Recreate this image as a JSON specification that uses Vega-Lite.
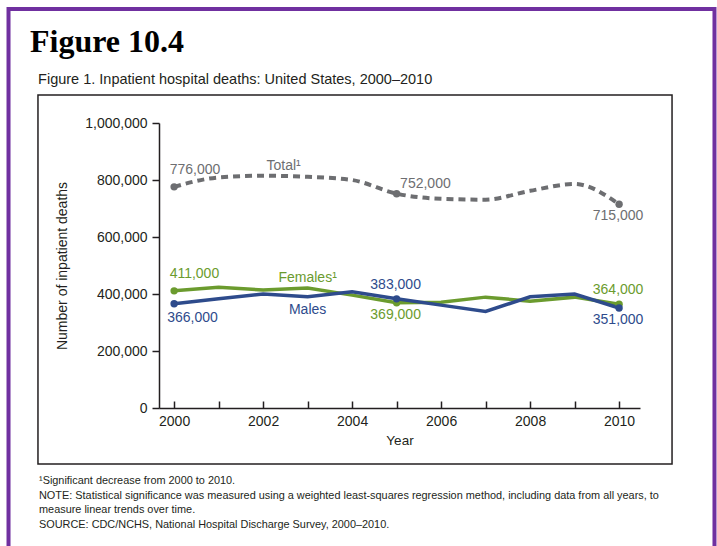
{
  "$schema": "https://vega.github.io/schema/vega-lite/v6.json",
  "width": 481,
  "height": 285,
  "autosize": {"type": "none"},
  "padding": {"left": 159, "top": 123, "right": 77, "bottom": 138},
  "background": "white",
  "config": {"view": {"stroke": null}, "axis": {"grid": false, "labelFont": "Liberation Sans", "titleFont": "Liberation Sans"}},
  "title": {
    "text": "Figure 10.4",
    "subtitle": "\u200b\u00a0\u00a0Figure 1. Inpatient hospital deaths: United States, 2000–2010",
    "anchor": "start",
    "frame": "group",
    "dx": -129,
    "offset": -80,
    "font": "Liberation Serif",
    "fontSize": 32,
    "fontWeight": "bold",
    "color": "#000000",
    "subtitleFont": "Liberation Sans",
    "subtitleFontSize": 14.5,
    "subtitleColor": "#231f20",
    "subtitlePadding": 14
  },
  "datasets": {
    "deaths": [
      {"series": "Total¹", "year": 2000, "value": 776000},
      {"series": "Total¹", "year": 2001, "value": 809000},
      {"series": "Total¹", "year": 2002, "value": 815000},
      {"series": "Total¹", "year": 2003, "value": 811000},
      {"series": "Total¹", "year": 2004, "value": 800000},
      {"series": "Total¹", "year": 2005, "value": 752000},
      {"series": "Total¹", "year": 2006, "value": 734000},
      {"series": "Total¹", "year": 2007, "value": 731000},
      {"series": "Total¹", "year": 2008, "value": 762000},
      {"series": "Total¹", "year": 2009, "value": 786000},
      {"series": "Total¹", "year": 2010, "value": 715000},
      {"series": "Females¹", "year": 2000, "value": 411000},
      {"series": "Females¹", "year": 2001, "value": 424000},
      {"series": "Females¹", "year": 2002, "value": 414000},
      {"series": "Females¹", "year": 2003, "value": 421000},
      {"series": "Females¹", "year": 2004, "value": 396000},
      {"series": "Females¹", "year": 2005, "value": 369000},
      {"series": "Females¹", "year": 2006, "value": 371000},
      {"series": "Females¹", "year": 2007, "value": 389000},
      {"series": "Females¹", "year": 2008, "value": 375000},
      {"series": "Females¹", "year": 2009, "value": 389000},
      {"series": "Females¹", "year": 2010, "value": 364000},
      {"series": "Males", "year": 2000, "value": 366000},
      {"series": "Males", "year": 2001, "value": 383000},
      {"series": "Males", "year": 2002, "value": 400000},
      {"series": "Males", "year": 2003, "value": 390000},
      {"series": "Males", "year": 2004, "value": 408000},
      {"series": "Males", "year": 2005, "value": 383000},
      {"series": "Males", "year": 2006, "value": 361000},
      {"series": "Males", "year": 2007, "value": 339000},
      {"series": "Males", "year": 2008, "value": 390000},
      {"series": "Males", "year": 2009, "value": 400000},
      {"series": "Males", "year": 2010, "value": 351000}
    ],
    "frame": [{"name": "frame"}]
  },
  "resolve": {"axis": {"x": "independent", "y": "independent"}},
  "layer": [
    {
      "data": {"name": "frame"},
      "mark": {"type": "rect", "filled": false, "stroke": "#7030a0", "strokeWidth": 4, "clip": false},
      "encoding": {
        "x": {"datum": 1996.278, "type": "quantitative", "axis": null},
        "x2": {"datum": 2012.144},
        "y": {"datum": 1400000, "type": "quantitative", "axis": null},
        "y2": {"datum": -533333}
      }
    },
    {
      "data": {"name": "frame"},
      "mark": {"type": "rect", "filled": false, "stroke": "#231f20", "strokeWidth": 1.5, "clip": false},
      "encoding": {
        "x": {"datum": 1996.94, "type": "quantitative", "axis": null},
        "x2": {"datum": 2011.19},
        "y": {"datum": 1098246, "type": "quantitative", "axis": null},
        "y2": {"datum": -196491}
      }
    },
    {
      "data": {"name": "deaths"},
      "resolve": {"axis": {"x": "independent", "y": "independent"}},
      "encoding": {
        "x": {"field": "year", "type": "quantitative", "scale": {"domain": [1999.66, 2010.47], "nice": false, "zero": false}, "axis": null},
        "y": {"field": "value", "type": "quantitative", "scale": {"domain": [0, 1000000], "nice": false, "zero": false}, "axis": null},
        "color": {"field": "series", "type": "nominal", "legend": null, "scale": {"domain": ["Total¹", "Females¹", "Males"], "range": ["#6d6e71", "#6b9b2e", "#2e4b8c"]}}
      },
      "layer": [
        {
          "transform": [{"filter": "datum.series == 'Total¹'"}],
          "mark": {"type": "line", "interpolate": "monotone", "strokeDash": [7, 5], "strokeWidth": 4},
          "encoding": {
            "x": {"field": "year", "type": "quantitative", "axis": {
              "values": [2000, 2001, 2002, 2003, 2004, 2005, 2006, 2007, 2008, 2009, 2010],
              "labelExpr": "datum.value % 2 == 0 ? format(datum.value, 'd') : ''",
              "tickSize": -7, "tickWidth": 1.5, "tickColor": "#231f20",
              "domainColor": "#231f20", "domainWidth": 1.5,
              "labelPadding": 13.5, "labelFontSize": 14, "labelColor": "#231f20",
              "title": "Year", "titleFontSize": 13.5, "titleFontWeight": "normal", "titleColor": "#231f20", "titlePadding": 4.5
            }},
            "y": {"field": "value", "type": "quantitative", "axis": {
              "orient": "left",
              "values": [0, 200000, 400000, 600000, 800000, 1000000],
              "format": ",.0f",
              "tickSize": 7, "tickWidth": 1.5, "tickColor": "#231f20",
              "domainColor": "#231f20", "domainWidth": 1.5,
              "labelPadding": 5, "labelFontSize": 14, "labelColor": "#231f20",
              "title": "Number of inpatient deaths", "titleFontSize": 14, "titleFontWeight": "normal", "titleColor": "#231f20", "titlePadding": 15
            }}
          }
        },
        {
          "transform": [{"filter": "datum.series == 'Females¹'"}],
          "mark": {"type": "line", "strokeWidth": 3.5}
        },
        {
          "transform": [{"filter": "datum.series == 'Males'"}],
          "mark": {"type": "line", "strokeWidth": 3.5},
          "encoding": {
            "x": {"field": "year", "type": "quantitative", "axis": {
              "orient": "bottom", "offset": 56, "domain": false, "ticks": false, "labels": false,
              "title": ["¹Significant decrease from 2000 to 2010.", "NOTE: Statistical significance was measured using a weighted least-squares regression method, including data from all years, to", "measure linear trends over time.", "SOURCE: CDC/NCHS, National Hospital Discharge Survey, 2000–2010."],
              "titleX": -120.5, "titleY": 10.5, "titleAlign": "left", "titleAnchor": "start", "titleBaseline": "top",
              "titleFontSize": 10.9, "titleFontWeight": "normal", "titleColor": "#231f20", "titleLineHeight": 14.5
            }}
          }
        },
        {
          "transform": [{"filter": {"field": "year", "oneOf": [2000, 2005, 2010]}}],
          "mark": {"type": "circle", "size": 55, "opacity": 1}
        },
        {
          "transform": [{"filter": "datum.year == 2000 && datum.series != 'Males'"}],
          "mark": {"type": "text", "align": "left", "baseline": "middle", "dx": -4.5, "dy": -17, "font": "Liberation Sans", "fontSize": 14},
          "encoding": {"text": {"field": "value", "type": "quantitative", "format": ","}}
        },
        {
          "transform": [{"filter": "datum.year == 2000 && datum.series == 'Males'"}],
          "mark": {"type": "text", "align": "left", "baseline": "middle", "dx": -7, "dy": 14, "font": "Liberation Sans", "fontSize": 14},
          "encoding": {"text": {"field": "value", "type": "quantitative", "format": ","}}
        },
        {
          "transform": [{"filter": "datum.year == 2005 && datum.series == 'Total¹'"}],
          "mark": {"type": "text", "align": "left", "baseline": "middle", "dx": 3.5, "dy": -10, "font": "Liberation Sans", "fontSize": 14},
          "encoding": {"text": {"field": "value", "type": "quantitative", "format": ","}}
        },
        {
          "transform": [{"filter": "(datum.year == 2005 && datum.series == 'Males') || (datum.year == 2010 && datum.series == 'Females¹')"}],
          "mark": {"type": "text", "align": "center", "baseline": "middle", "dx": -1, "dy": -14, "font": "Liberation Sans", "fontSize": 14},
          "encoding": {"text": {"field": "value", "type": "quantitative", "format": ","}}
        },
        {
          "transform": [{"filter": "(datum.year == 2005 && datum.series == 'Females¹') || (datum.year == 2010 && datum.series != 'Females¹')"}],
          "mark": {"type": "text", "align": "center", "baseline": "middle", "dx": -1, "dy": 12, "font": "Liberation Sans", "fontSize": 14},
          "encoding": {"text": {"field": "value", "type": "quantitative", "format": ","}}
        },
        {
          "transform": [{"filter": "datum.year == 2003 && datum.series == 'Total¹'"}],
          "mark": {"type": "text", "align": "center", "baseline": "middle", "dx": -24, "dy": -11, "font": "Liberation Sans", "fontSize": 14},
          "encoding": {"text": {"field": "series", "type": "nominal"}}
        },
        {
          "transform": [{"filter": "datum.year == 2003 && datum.series == 'Females¹'"}],
          "mark": {"type": "text", "align": "center", "baseline": "middle", "dy": -10, "font": "Liberation Sans", "fontSize": 14},
          "encoding": {"text": {"field": "series", "type": "nominal"}}
        },
        {
          "transform": [{"filter": "datum.year == 2003 && datum.series == 'Males'"}],
          "mark": {"type": "text", "align": "center", "baseline": "middle", "dy": 13, "font": "Liberation Sans", "fontSize": 14},
          "encoding": {"text": {"field": "series", "type": "nominal"}}
        }
      ]
    }
  ]
}
